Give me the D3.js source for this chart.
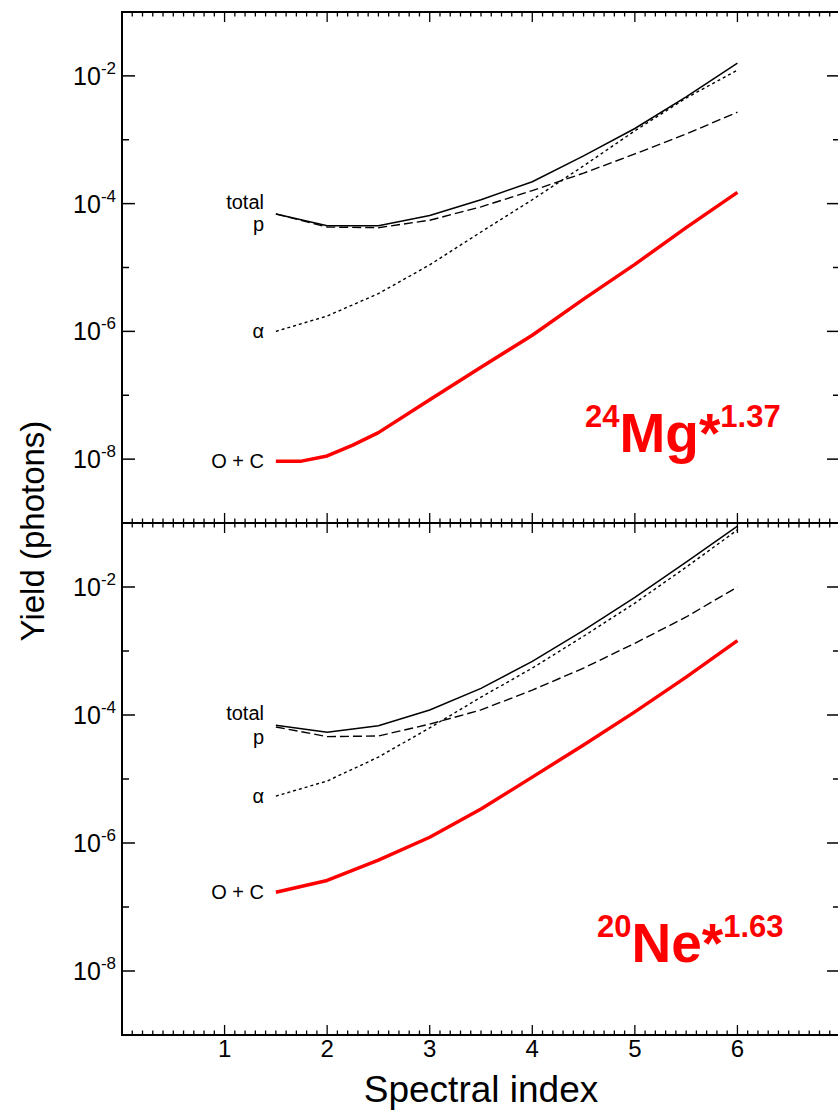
<!DOCTYPE html>
<html><head><meta charset="utf-8">
<script src="https://cdn.jsdelivr.net/npm/d3@7"></script>
<style>body{margin:0;background:#fff}svg{display:block}text{font-family:"Liberation Sans",Arial,Helvetica,sans-serif}</style>
</head><body><svg id="c" width="838" height="1110"></svg>
<script>
// ---- data ----
const spectralIndex = [1.5, 2, 2.5, 3, 3.5, 4, 4.5, 5, 5.5, 6];
const redIndexMg = [1.5, 1.75, 2, 2.25, 2.5, 3, 3.5, 4, 4.5, 5, 5.5, 6];

const mgTotal = [6.9e-5, 4.5e-5, 4.5e-5, 6.5e-5, 1.15e-4, 2.2e-4, 5.6e-4, 1.5e-3, 4.7e-3, 1.58e-2];
const mgP     = [6.9e-5, 4.3e-5, 4.2e-5, 5.5e-5, 8.9e-5, 1.6e-4, 3.0e-4, 6.0e-4, 1.23e-3, 2.7e-3];
const mgAlpha = [1.0e-6, 1.74e-6, 3.9e-6, 1.1e-5, 3.6e-5, 1.15e-4, 3.9e-4, 1.38e-3, 4.5e-3, 1.23e-2];
const mgOC    = [9.3e-9, 9.3e-9, 1.12e-8, 1.66e-8, 2.6e-8, 8.5e-8, 2.75e-7, 8.7e-7, 3.2e-6, 1.12e-5, 4.2e-5, 1.5e-4];

const neTotal = [6.9e-5, 5.4e-5, 6.8e-5, 1.2e-4, 2.6e-4, 6.9e-4, 2.1e-3, 6.9e-3, 2.45e-2, 8.9e-2];
const neP     = [6.5e-5, 4.6e-5, 4.7e-5, 7.2e-5, 1.2e-4, 2.45e-4, 5.4e-4, 1.32e-3, 3.4e-3, 1.0e-2];
const neAlpha = [5.4e-6, 9.3e-6, 2.2e-5, 6.3e-5, 1.9e-4, 5.4e-4, 1.7e-3, 5.6e-3, 2.04e-2, 7.8e-2];
const neOC    = [1.7e-7, 2.6e-7, 5.4e-7, 1.23e-6, 3.4e-6, 1.07e-5, 3.4e-5, 1.12e-4, 3.9e-4, 1.45e-3];

const xTickLabels = [1, 2, 3, 4, 5, 6];
const yTickExponents = [-2, -4, -6, -8];
const curveLabels = ["total", "p", "\u03b1", "O + C"];
const panelNames = [{sup:"24", el:"Mg", fac:"1.37"}, {sup:"20", el:"Ne", fac:"1.63"}];

// ---- layout ----
const svg = d3.select("#c");
const x = d3.scaleLinear().domain([0, 7]).range([122, 840]);
const panelBounds = [[12, 523], [523, 1035]];
const red = "#ff0000";

const panels = [
  {total: mgTotal, p: mgP, alpha: mgAlpha, oc: mgOC, ocX: redIndexMg, name: panelNames[0], annX: 585},
  {total: neTotal, p: neP, alpha: neAlpha, oc: neOC, ocX: spectralIndex, name: panelNames[1], annX: 597}
];

// frame
svg.append("rect").attr("x", x(0)).attr("y", 12).attr("width", x(7) - x(0)).attr("height", 1035 - 12)
  .attr("fill", "none").attr("stroke", "#000").attr("stroke-width", 2);
svg.append("line").attr("x1", x(0)).attr("x2", x(7)).attr("y1", 523).attr("y2", 523)
  .attr("stroke", "#000").attr("stroke-width", 2);

// x ticks
const xt = d3.range(0, 71).map(i => i / 10);
const gx = svg.append("g").attr("stroke", "#000").attr("stroke-width", 1.3);
xt.forEach(v => {
  const major = Math.abs(v - Math.round(v)) < 1e-6;
  const L = major ? 10 : 4.5;
  const xx = x(v);
  gx.append("line").attr("x1", xx).attr("x2", xx).attr("y1", 12).attr("y2", 12 + L);
  gx.append("line").attr("x1", xx).attr("x2", xx).attr("y1", 523 - L).attr("y2", 523 + L);
  gx.append("line").attr("x1", xx).attr("x2", xx).attr("y1", 1035).attr("y2", 1035 - L);
});
svg.append("g").selectAll("text").data(xTickLabels).join("text")
  .attr("x", d => x(d)).attr("y", 1057).attr("text-anchor", "middle")
  .attr("font-size", 24).text(d => d);

svg.append("text").attr("x", (x(0) + x(7)) / 2).attr("y", 1102).attr("text-anchor", "middle")
  .attr("font-size", 37).text("Spectral index");
svg.append("text").attr("transform", "translate(44,531) rotate(-90)").attr("text-anchor", "middle")
  .attr("font-size", 33).text("Yield (photons)");

const line = (xs, ys, y) => d3.line().x((d, i) => x(xs[i])).y(d => y(d))(ys);

panels.forEach((P, k) => {
  const [top, bot] = panelBounds[k];
  const y = d3.scaleLog().domain([1e-9, 1e-1]).range([bot, top]);
  const g = svg.append("g");
  // y ticks
  d3.range(-9, 0).forEach(e => {
    const yy = y(Math.pow(10, e));
    const L = (e % 2 === 0) ? 13 : 7;
    g.append("line").attr("x1", x(0)).attr("x2", x(0) + L).attr("y1", yy).attr("y2", yy).attr("stroke", "#000").attr("stroke-width", 1.5);
    g.append("line").attr("x1", x(7)).attr("x2", x(7) - L).attr("y1", yy).attr("y2", yy).attr("stroke", "#000").attr("stroke-width", 1.5);
  });
  yTickExponents.forEach(e => {
    const t = g.append("text").attr("x", 116).attr("y", y(Math.pow(10, e)) + 9)
      .attr("text-anchor", "end").attr("font-size", 25);
    t.append("tspan").text("10");
    t.append("tspan").attr("font-size", 17).attr("dy", -11).text(e);
  });
  // curves
  g.append("path").attr("d", line(spectralIndex, P.p, y)).attr("fill", "none").attr("stroke", "#000")
    .attr("stroke-width", 1.4).attr("stroke-dasharray", "9,4");
  g.append("path").attr("d", line(spectralIndex, P.alpha, y)).attr("fill", "none").attr("stroke", "#000")
    .attr("stroke-width", 1.4).attr("stroke-dasharray", "3,3");
  g.append("path").attr("d", line(spectralIndex, P.total, y)).attr("fill", "none").attr("stroke", "#000")
    .attr("stroke-width", 1.5);
  g.append("path").attr("d", line(P.ocX, P.oc, y)).attr("fill", "none").attr("stroke", red)
    .attr("stroke-width", 3.5).attr("stroke-linejoin", "round");
  // labels
  const lx = 264, fs = 20;
  g.append("text").attr("x", lx).attr("y", y(P.total[0]) - 5).attr("text-anchor", "end").attr("font-size", fs).text(curveLabels[0]);
  g.append("text").attr("x", lx).attr("y", y(P.p[0]) + 17).attr("text-anchor", "end").attr("font-size", fs).text(curveLabels[1]);
  g.append("text").attr("x", lx).attr("y", y(P.alpha[0]) + 7).attr("text-anchor", "end").attr("font-size", fs).text(curveLabels[2]);
  g.append("text").attr("x", lx).attr("y", y(P.oc[0]) + 7).attr("text-anchor", "end").attr("font-size", fs).text(curveLabels[3]);
  // annotation
  const base = k === 0 ? 452 : 962;
  const t = g.append("text").attr("x", P.annX).attr("y", base).attr("fill", red).attr("font-weight", "bold");
  t.append("tspan").attr("font-size", 31).attr("dy", -25).text(P.name.sup);
  t.append("tspan").attr("font-size", 55).attr("dy", 25).text(P.name.el + "*");
  t.append("tspan").attr("font-size", 31).attr("dy", -25).text(P.name.fac);
});
</script></body></html>
